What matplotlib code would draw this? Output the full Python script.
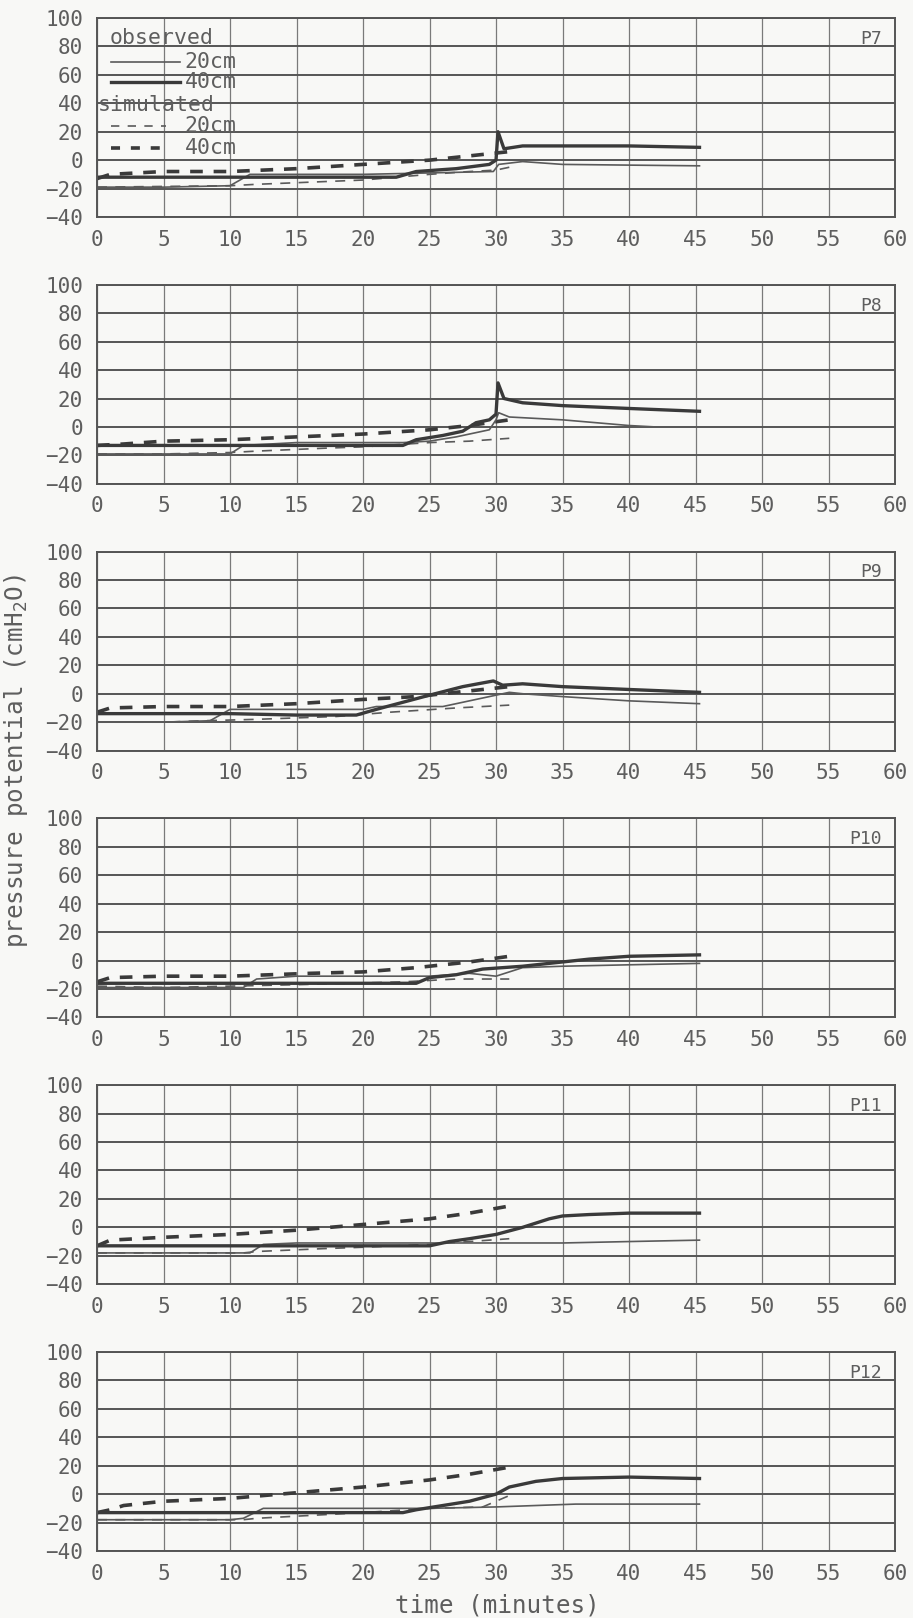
import matplotlib
matplotlib.use("Agg")
import matplotlib.pyplot as plt

# ---- data (time in minutes, pressure potential in cmH2O) ----
# P7
p7_obs20_t = [0, 5, 10, 11.5, 15, 20, 25, 29.8, 30.2, 32, 35, 40, 45.3]
p7_obs20 = [-19, -19, -18, -10, -10, -10, -9, -8, -3, -1, -3, -3.5, -4]
p7_obs40_t = [0, 5, 10, 15, 20, 22.5, 24, 27, 29.5, 30, 30.15, 30.6, 32, 35, 40, 45.3]
p7_obs40 = [-12, -12, -12, -12, -12, -12, -8, -6, -3, 0, 20, 8, 10, 10, 10, 9]
p7_sim20_t = [0, 10, 12, 20, 25, 28, 30, 31]
p7_sim20 = [-19, -18, -17, -14, -10, -8, -7, -5]
p7_sim40_t = [0, 1, 5, 10, 15, 20, 25, 28, 31]
p7_sim40 = [-13, -10, -8, -8, -6, -3, 0, 3, 6]

# P8
p8_obs20_t = [0, 10, 11, 15, 23, 25, 27, 29.5, 30, 30.2, 31, 35, 40, 42, 45.3]
p8_obs20 = [-19, -19, -13, -11, -11, -10, -7, -2, 5, 10, 7, 5, 1, 0, 0]
p8_obs40_t = [0, 10, 20, 23, 24, 26, 27.5, 28.5, 29.5, 30, 30.15, 30.6, 32, 35, 40, 45.3]
p8_obs40 = [-13, -13, -13, -13, -9, -6, -3, 3, 5, 9, 31, 20, 17, 15, 13, 11]
p8_sim20_t = [0, 5, 10, 12, 17, 20, 25, 28, 31]
p8_sim20 = [-19, -19, -18, -17, -15, -14, -11, -10, -8]
p8_sim40_t = [0, 2, 5, 10, 15, 20, 25, 28, 31]
p8_sim40 = [-13, -12, -10, -9, -7, -5, -2, 1, 5]

# P9
p9_obs20_t = [0, 5, 8.5, 10, 15, 20, 21, 26, 30, 31, 32, 35, 40, 45.3]
p9_obs20 = [-20, -20, -19, -11, -11, -11, -9, -9, -1, 1, 0, -2, -5, -7]
p9_obs40_t = [0, 10, 15, 19.5, 21, 23, 25, 27.5, 29.8, 30.5, 32, 35, 40, 45.3]
p9_obs40 = [-14, -14, -15, -15, -11, -6, -1, 5, 9, 6, 7, 5, 3, 1]
p9_sim20_t = [0, 5, 8, 12, 18, 22, 27, 31]
p9_sim20 = [-20, -20, -19, -18, -16, -13, -10, -8]
p9_sim40_t = [0, 1, 5, 10, 15, 20, 24, 27, 31]
p9_sim40 = [-13, -10, -9, -9, -7, -4, -2, 1, 5]

# P10
p10_obs20_t = [0, 5, 11, 12, 15, 25, 28, 30, 32, 35, 40, 45.3]
p10_obs20 = [-19, -19, -19, -13, -11, -11, -9, -11, -5, -4, -3, -2]
p10_obs40_t = [0, 10, 20, 24, 25, 27, 29, 32, 35, 37, 40, 45.3]
p10_obs40 = [-16, -16, -16, -16, -12, -10, -6, -4, -1, 1, 3, 4]
p10_sim20_t = [0, 5, 10, 15, 23, 27, 31]
p10_sim20 = [-18, -19, -18, -17, -15, -13, -13]
p10_sim40_t = [0, 1, 5, 10, 16, 20, 24, 28, 31]
p10_sim40 = [-15, -12, -11, -11, -9, -8, -5, -1, 3]

# P11
p11_obs20_t = [0, 5, 11.5, 12.5, 15, 20, 30, 35, 40, 45.3]
p11_obs20 = [-18, -18, -18, -12, -11, -11, -11, -11, -10, -9]
p11_obs40_t = [0, 10, 20, 25, 26.5, 28, 30, 32, 34, 35, 37, 40, 45.3]
p11_obs40 = [-13, -13, -13, -13, -10, -8, -5, 0, 6, 8, 9, 10, 10]
p11_sim20_t = [0, 5, 11, 12, 17, 20, 25, 28, 31]
p11_sim20 = [-18, -18, -18, -17, -15, -14, -12, -10, -8]
p11_sim40_t = [0, 1, 5, 10, 15, 20, 25, 28, 31]
p11_sim40 = [-13, -9, -7, -5, -2, 2, 6, 10, 15]

# P12
p12_obs20_t = [0, 10, 11, 12.5, 20, 25, 30, 33, 36, 40, 45.3]
p12_obs20 = [-18, -18, -17, -10, -10, -10, -9, -8, -7, -7, -7]
p12_obs40_t = [0, 10, 20, 23, 24, 26, 28, 30, 31, 33, 35, 40, 45.3]
p12_obs40 = [-13, -13, -13, -13, -11, -8, -5, 0, 5, 9, 11, 12, 11]
p12_sim20_t = [0, 5, 11, 12, 16, 20, 25, 29, 31]
p12_sim20 = [-18, -18, -18, -17, -15, -13, -10, -9, -1]
p12_sim40_t = [0, 1, 2, 5, 10, 15, 20, 25, 28, 31]
p12_sim40 = [-13, -11, -8, -5, -3, 1, 5, 10, 14, 19]

panel_names = ["P7", "P8", "P9", "P10", "P11", "P12"]
panels = [
    (p7_obs20_t, p7_obs20, p7_obs40_t, p7_obs40, p7_sim20_t, p7_sim20, p7_sim40_t, p7_sim40),
    (p8_obs20_t, p8_obs20, p8_obs40_t, p8_obs40, p8_sim20_t, p8_sim20, p8_sim40_t, p8_sim40),
    (p9_obs20_t, p9_obs20, p9_obs40_t, p9_obs40, p9_sim20_t, p9_sim20, p9_sim40_t, p9_sim40),
    (p10_obs20_t, p10_obs20, p10_obs40_t, p10_obs40, p10_sim20_t, p10_sim20, p10_sim40_t, p10_sim40),
    (p11_obs20_t, p11_obs20, p11_obs40_t, p11_obs40, p11_sim20_t, p11_sim20, p11_sim40_t, p11_sim40),
    (p12_obs20_t, p12_obs20, p12_obs40_t, p12_obs40, p12_sim20_t, p12_sim20, p12_sim40_t, p12_sim40),
]

x_ticks = list(range(0, 61, 5))
y_ticks = list(range(-40, 101, 20))
legend_labels = ["20cm", "40cm", "20cm", "40cm"]

# ---- style ----
ink = "#3a3a3a"
thin_col = "#5a5a5a"
text_col = "#5e5e5e"
font = ["DejaVu Sans Mono", "DejaVu Sans"]

W, H = 913, 1618
fig = plt.figure(figsize=(W / 100, H / 100), dpi=100, facecolor="#f8f8f6")

left_px, right_px = 97, 895
top0_px, ax_h_px, step_px = 18, 199, 266.8

for i, (name, data) in enumerate(zip(panel_names, panels)):
    o20t, o20, o40t, o40, s20t, s20, s40t, s40 = data
    top = top0_px + i * step_px
    ax = fig.add_axes([left_px / W, 1 - (top + ax_h_px) / H,
                       (right_px - left_px) / W, ax_h_px / H])
    ax.set_facecolor("none")

    ax.plot(s20t, s20, color=thin_col, lw=1.2, dashes=(6, 5))
    ax.plot(s40t, s40, color=ink, lw=2.6, dashes=(3.5, 3))
    ax.plot(o20t, o20, color=thin_col, lw=1.2)
    ax.plot(o40t, o40, color=ink, lw=2.4)

    ax.set_xlim(0, 60)
    ax.set_ylim(-40, 100)
    ax.set_xticks(x_ticks)
    ax.set_yticks(y_ticks)
    ax.tick_params(axis="y", length=0, pad=10)
    ax.tick_params(axis="x", length=0, pad=9)
    ax.tick_params(labelsize=15, labelcolor=text_col)
    for lab in ax.get_xticklabels() + ax.get_yticklabels():
        lab.set_family(font)
    ax.xaxis.grid(True, color="#7a7a7a", lw=0.9)
    ax.yaxis.grid(True, color="#555555", lw=1.4)
    ax.set_axisbelow(True)
    for sp in ax.spines.values():
        sp.set_color("#555555")
        sp.set_linewidth(1.4)

    ax.text(0.984, 0.895, name, transform=ax.transAxes, ha="right", va="center",
            fontsize=13, color=text_col, family=font)

    if i == 0:
        # legend drawn the way the original plot has it: headers plus short samples
        ax.text(0.016, 0.897, "observed", transform=ax.transAxes, ha="left", va="center",
                fontsize=15.5, color=text_col, family=font)
        ax.text(0.001, 0.565, "simulated", transform=ax.transAxes, ha="left", va="center",
                fontsize=15.5, color=text_col, family=font)
        rows = [(0.78, thin_col, 1.2, None, 0.104), (0.68, ink, 2.4, None, 0.104),
                (0.457, thin_col, 1.2, (5, 5), 0.087), (0.349, ink, 2.6, (2.5, 3), 0.087)]
        for (yy, c, lw, ds, x1), lab in zip(rows, legend_labels):
            ln, = ax.plot([0.018, x1], [yy, yy], transform=ax.transAxes, color=c, lw=lw)
            if ds:
                ln.set_dashes(ds)
            ax.text(0.11, yy, lab, transform=ax.transAxes, ha="left", va="center",
                    fontsize=15.5, color=text_col, family=font)

fig.text(497 / W, 1 - 1605 / H, "time (minutes)", ha="center", va="center",
         fontsize=17.5, color=text_col, family=font)
fig.text(16 / W, 1 - 761 / H, r"pressure potential (cmH$_2$O)", rotation=90,
         ha="center", va="center", fontsize=17.5, color=text_col, family=font)

fig.savefig("out.png", dpi=100, facecolor=fig.get_facecolor())
